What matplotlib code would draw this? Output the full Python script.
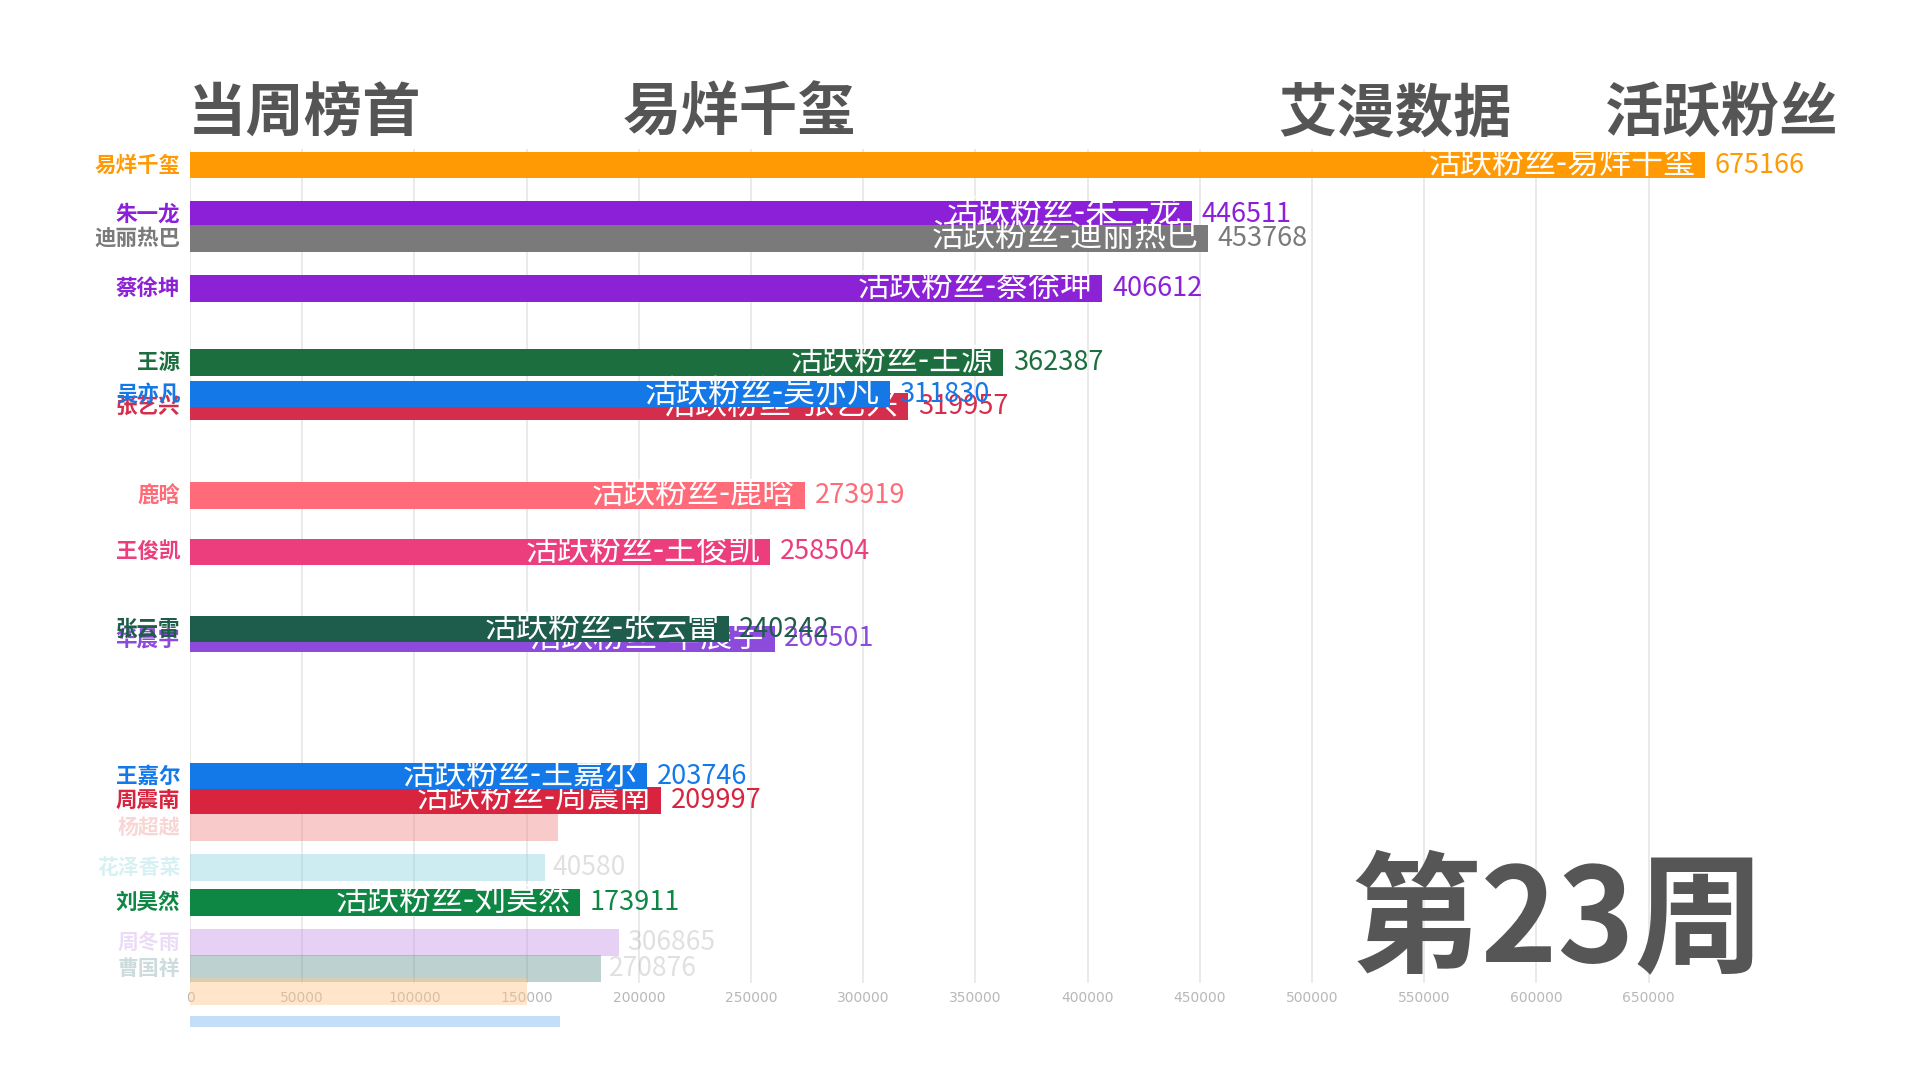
import matplotlib
matplotlib.use("Agg")
import matplotlib.pyplot as plt

plt.rcParams['font.family'] = ['Noto Sans CJK SC', 'DejaVu Sans']

# ---- data (frame of an animated bar race, week 23) ----
names = ['易烊千玺', '朱一龙', '迪丽热巴', '蔡徐坤', '王源', '张艺兴', '吴亦凡',
         '鹿晗', '王俊凯', '华晨宇', '张云雷', '周震南', '王嘉尔', '刘昊然']
values = [675166, 446511, 453768, 406612, 362387, 319957, 311830,
          273919, 258504, 260501, 240242, 209997, 203746, 173911]
value_labels = ['675166', '446511', '453768', '406612', '362387', '319957', '311830',
                '273919', '258504', '260501', '240242', '209997', '203746', '173911']
positions = [0.0, 0.89, 1.33, 2.24, 3.58, 4.38, 4.16,
             6.0, 7.02, 8.6, 8.42, 11.53, 11.09, 13.38]
colors = ['#FF9A05', '#8C1FD8', '#7A7A7A', '#8C22D6', '#1C6E3E', '#D42E4C', '#1478E6',
          '#FF6B78', '#EC3D7C', '#8D4BDB', '#1E5C4C', '#D8243E', '#1479E8', '#0E8644']

# fading (entering/leaving) bars
fade_names = ['杨超越', '花泽香菜', '周冬雨', '曹国祥', '', '']
fade_values = [164000, 158000, 191000, 183000, 150000, 165000]
fade_labels = ['', '40580', '306865', '270876', '', '']
fade_positions = [12.02, 12.75, 14.11, 14.58, 15.0, 15.55]
fade_heights = [0.48, 0.48, 0.48, 0.48, 0.48, 0.2]
fade_colors = ['#F08A8A', '#8FD6E0', '#C89AE8', '#6E9A98', '#FFC98A', '#7EB6EE']

ticks = [0, 50000, 100000, 150000, 200000, 250000, 300000, 350000,
         400000, 450000, 500000, 550000, 600000, 650000]

title_left = '当周榜首'
title_leader = '易烊千玺'
title_source = '艾漫数据'
title_metric = '活跃粉丝'
week_label = '第23周'
prefix = '活跃粉丝-'

# ---- figure ----
fig = plt.figure(figsize=(19.2, 10.8), dpi=100)
ax = fig.add_axes([0.099, 0.09, 0.901, 0.772])
ax.set_xlim(0, 771000)
ax.set_ylim(14.84, -0.29)
for s in ax.spines.values():
    s.set_visible(False)
ax.set_yticks([])
ax.set_xticks(ticks)
ax.set_xticklabels([str(t) for t in ticks], fontsize=10, color='#b8b8b8',
                   family=['DejaVu Sans Condensed', 'DejaVu Sans'])
ax.tick_params(axis='x', length=0, pad=6)
ax.grid(axis='x', color='#e6e6e6', linewidth=1.2)
ax.set_axisbelow(True)

h = 0.48

# faded bars
for n, v, lab, p, hh, c in zip(fade_names, fade_values, fade_labels, fade_positions,
                               fade_heights, fade_colors):
    ax.barh(p, v, height=hh, color=c, alpha=0.45, clip_on=False, zorder=2)
    if n:
        ax.annotate(n, (0, p), xytext=(-7, 0), textcoords='offset points',
                    ha='right', va='center', fontsize=15, fontweight='bold',
                    color=c, alpha=0.35, annotation_clip=False)
    if lab:
        ax.annotate(lab, (v, p), xytext=(6, 0), textcoords='offset points',
                    ha='left', va='center', fontsize=19, color='#999999',
                    alpha=0.3, annotation_clip=False)

# main bars
for i, (n, v, lab, p, c) in enumerate(zip(names, values, value_labels, positions, colors)):
    z = 3 + i * 0.01
    ax.barh(p, v, height=h, color=c, clip_on=False, zorder=z)
    ax.annotate(n, (0, p), xytext=(-7, 0), textcoords='offset points',
                ha='right', va='center', fontsize=15.5, fontweight='bold',
                color=c, annotation_clip=False, zorder=z)
    ax.annotate(prefix + n, (v, p), xytext=(-7, 1), textcoords='offset points',
                ha='right', va='center', fontsize=23, color='white',
                annotation_clip=False, zorder=z + 0.005)
    ax.annotate(lab, (v, p), xytext=(7, 0), textcoords='offset points',
                ha='left', va='center', fontsize=19.5, color=c,
                annotation_clip=False, zorder=z + 0.005)

# titles
tkw = dict(fontsize=42, fontweight='bold', color='#555555', va='center', ha='left')
ty = 1 - 114 / 1080
fig.text(188 / 1920, ty, title_left, **tkw)
fig.text(623 / 1920, ty, title_leader, **tkw)
fig.text(1278 / 1920, ty, title_source, **tkw)
fig.text(1605 / 1920, ty, title_metric, **tkw)

fig.text(1350 / 1920, 1 - 924 / 1080, week_label, fontsize=94, fontweight='black',
         color='#565656', va='center', ha='left')

fig.savefig('out.png', dpi=100, facecolor='white')
